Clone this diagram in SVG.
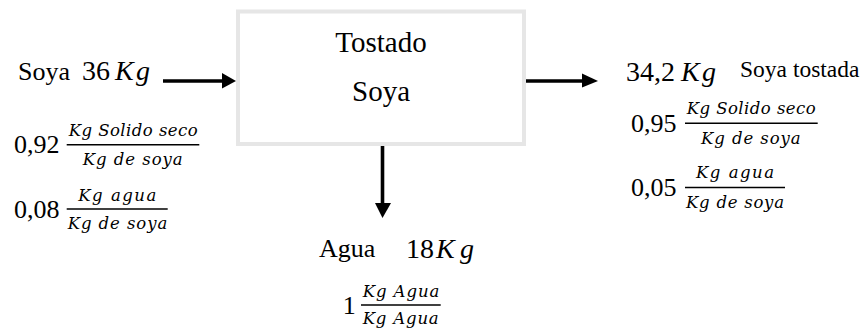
<svg xmlns="http://www.w3.org/2000/svg" width="867" height="331" viewBox="0 0 867 331">
  <style>
    .lbl { font-family: 'Liberation Serif', 'Times New Roman', serif; fill: #000; }
    .num { font-family: 'Liberation Serif', 'Times New Roman', serif; font-size: 26px; fill: #000; }
    .mth { font-family: 'Liberation Serif', 'Times New Roman', serif; font-size: 28px; fill: #000; }
    .it { font-style: italic; }
    .frac { font-family: 'DejaVu Serif', serif; font-style: italic; font-size: 16.5px; fill: #000; }
    .bar { stroke: #000; stroke-width: 1.6; }
    .flow { stroke: #000; stroke-width: 3.6; fill: none; }
    .head { fill: #000; }
  </style>

  <!-- process block -->
  <g id="node-tostado">
    <rect x="238" y="11.5" width="286" height="132.5" fill="#fff" stroke="#e6e6e6" stroke-width="4"/>
    <text class="lbl" x="381" y="52" font-size="29" text-anchor="middle">Tostado</text>
    <text class="lbl" x="381" y="101" font-size="29" text-anchor="middle">Soya</text>
  </g>

  <!-- feed stream -->
  <g id="node-feed">
    <text class="lbl" x="18" y="80" font-size="26">Soya</text>
    <text class="mth" y="80"><tspan x="82">36</tspan><tspan class="it" x="115" textLength="35" lengthAdjust="spacing">Kg</tspan></text>
    <text class="num" x="14" y="153">0,92</text>
    <line class="bar" x1="66.7" y1="144.7" x2="199.3" y2="144.7"/>
    <text class="frac" x="68.7" y="136" textLength="129" lengthAdjust="spacing">Kg Solido seco</text>
    <text class="frac" x="82.7" y="165" textLength="100" lengthAdjust="spacing">Kg de soya</text>
    <text class="num" x="14" y="218">0,08</text>
    <line class="bar" x1="66.7" y1="209" x2="167.7" y2="209"/>
    <text class="frac" x="78.3" y="200.5" textLength="78" lengthAdjust="spacing">Kg agua</text>
    <text class="frac" x="67.7" y="229" textLength="99.6" lengthAdjust="spacing">Kg de soya</text>
  </g>

  <!-- product stream -->
  <g id="node-product">
    <text class="mth" y="81"><tspan x="626">34,2</tspan><tspan class="it" x="681" textLength="35" lengthAdjust="spacing">Kg</tspan></text>
    <text class="lbl" x="740" y="77" font-size="23.5">Soya tostada</text>
    <text class="num" x="631" y="132">0,95</text>
    <line class="bar" x1="685" y1="123.3" x2="817.7" y2="123.3"/>
    <text class="frac" x="686.7" y="113.5" textLength="129" lengthAdjust="spacing">Kg Solido seco</text>
    <text class="frac" x="701" y="143.5" textLength="99.7" lengthAdjust="spacing">Kg de soya</text>
    <text class="num" x="631" y="196">0,05</text>
    <line class="bar" x1="685" y1="187.5" x2="785" y2="187.5"/>
    <text class="frac" x="696" y="178" textLength="78" lengthAdjust="spacing">Kg agua</text>
    <text class="frac" x="686" y="207.5" textLength="98" lengthAdjust="spacing">Kg de soya</text>
  </g>

  <!-- water stream -->
  <g id="node-water">
    <text class="lbl" x="319" y="257" font-size="26">Agua</text>
    <text class="mth" y="257.5"><tspan x="406">18</tspan><tspan class="it" x="436" textLength="38" lengthAdjust="spacing">Kg</tspan></text>
    <text class="num" x="342.7" y="314">1</text>
    <line class="bar" x1="361" y1="305" x2="440.7" y2="305"/>
    <text class="frac" x="362.7" y="296.5" textLength="76.6" lengthAdjust="spacing">Kg Agua</text>
    <text class="frac" x="362.7" y="324" textLength="76" lengthAdjust="spacing">Kg Agua</text>
  </g>

  <!-- connectors -->
  <g id="connectors">
    <line class="flow" x1="163" y1="81" x2="224" y2="81"/>
    <polygon class="head" points="222,73 236,81 222,88.5"/>
    <line class="flow" x1="526" y1="81" x2="584" y2="81"/>
    <polygon class="head" points="582,73.5 598,81 582,87.5"/>
    <line class="flow" x1="382.5" y1="146" x2="382.5" y2="205"/>
    <polygon class="head" points="375,203 382.5,218 391,203"/>
  </g>
</svg>
